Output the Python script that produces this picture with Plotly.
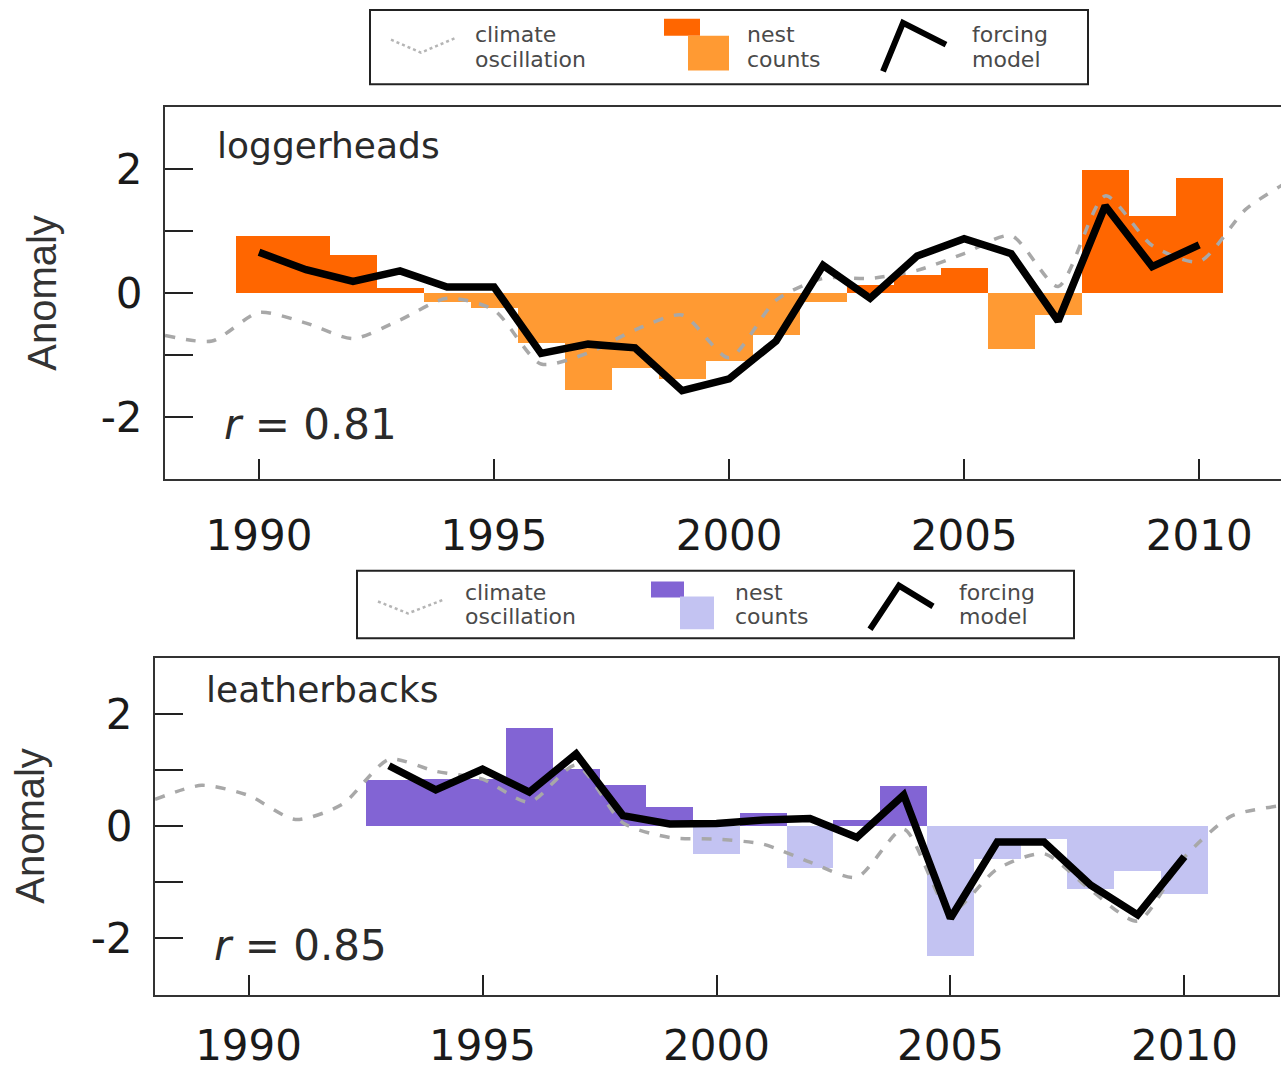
import plotly.graph_objects as go

# ---------------- data ----------------
years_nest_log = list(range(1990, 2011))
nest_log = [0.92, 0.92, 0.62, 0.09, -0.14, -0.24, -0.80, -1.57, -1.21, -1.38, -1.10,
            -0.68, -0.14, 0.13, 0.29, 0.41, -0.90, -0.36, 1.98, 1.24, 1.85]
forcing_log = [0.66, 0.38, 0.19, 0.36, 0.10, 0.10, -0.97, -0.82, -0.88, -1.57, -1.38,
               -0.77, 0.45, -0.08, 0.60, 0.88, 0.64, -0.45, 1.41, 0.43, 0.78]
years_clim = list(range(1988, 2013))
climate_log = [-0.68, -0.77, -0.31, -0.48, -0.73, -0.43, -0.08, -0.27, -1.14, -0.96, -0.59,
               -0.35, -1.04, -0.11, 0.24, 0.24, 0.37, 0.64, 0.93, 0.11, 1.57, 0.77, 0.51,
               1.36, 1.85]

years_nest_lea = list(range(1993, 2011))
nest_lea = [0.83, 0.85, 0.84, 1.76, 1.02, 0.73, 0.35, -0.49, 0.24, -0.75, 0.11, 0.72,
            -2.32, -0.58, -0.23, -1.12, -0.79, -1.20]
forcing_lea = [1.08, 0.65, 1.02, 0.61, 1.29, 0.19, 0.04, 0.05, 0.11, 0.14, -0.20, 0.56,
               -1.64, -0.28, -0.28, -1.05, -1.58, -0.54]
climate_lea = [0.48, 0.73, 0.55, 0.12, 0.39, 1.19, 0.98, 0.84, 0.43, 1.09, 0.06, -0.20,
               -0.23, -0.32, -0.64, -0.91, -0.05, -1.52, -0.76, -0.49, -1.14, -1.69, -0.55,
               0.18, 0.36]

x_tick_vals = [1990, 1995, 2000, 2005, 2010]
x_tick_text = ["1990", "1995", "2000", "2005", "2010"]
y_tick_vals = [-2, -1, 0, 1, 2]
y_tick_text = ["-2", "", "0", "", "2"]

panel_names = ["loggerheads", "leatherbacks"]
r_texts = ["<i>r</i> = 0.81", "<i>r</i> = 0.85"]
legend_labels = [("climate", "oscillation"), ("nest", "counts"), ("forcing", "model")]

# ---------------- styling ----------------
W, H = 1281, 1070
FONT = "DejaVu Sans"
ORANGE_D, ORANGE_L = "#FF6600", "#FF9A33"
PURPLE_D, PURPLE_L = "#8264D4", "#C3C3F2"
DASH_COL = "#A8A8A8"


def px(x):
    return x / W


def py(y):
    return 1 - y / H


fig = go.Figure()


def add_panel(xa, ya, yrs, nest, forc, clim, dark, light):
    pos_x = [y for y, v in zip(yrs, nest) if v >= 0]
    pos_v = [v for v in nest if v >= 0]
    neg_x = [y for y, v in zip(yrs, nest) if v < 0]
    neg_v = [v for v in nest if v < 0]
    fig.add_trace(go.Bar(x=pos_x, y=pos_v, width=1, marker=dict(color=dark, line=dict(width=0)),
                         xaxis=xa, yaxis=ya, showlegend=False))
    fig.add_trace(go.Bar(x=neg_x, y=neg_v, width=1, marker=dict(color=light, line=dict(width=0)),
                         xaxis=xa, yaxis=ya, showlegend=False))
    fig.add_trace(go.Scatter(x=years_clim, y=clim, mode="lines",
                             line=dict(color=DASH_COL, width=3.5, dash="10px,11px", shape="spline", smoothing=0.7),
                             xaxis=xa, yaxis=ya, showlegend=False))
    fig.add_trace(go.Scatter(x=yrs, y=forc, mode="lines",
                             line=dict(color="black", width=7.5),
                             xaxis=xa, yaxis=ya, showlegend=False))


add_panel("x", "y", years_nest_log, nest_log, forcing_log, climate_log, ORANGE_D, ORANGE_L)
add_panel("x2", "y2", years_nest_lea, nest_lea, forcing_lea, climate_lea, PURPLE_D, PURPLE_L)

axis_common = dict(showgrid=False, zeroline=False, showline=True, linewidth=2, linecolor="#333",
                   ticks="inside", tickwidth=2, tickcolor="#222", fixedrange=True)
tick_font = dict(family=FONT, size=42, color="#1a1a1a")

fig.update_layout(
    width=W, height=H, margin=dict(l=0, r=0, t=0, b=0),
    paper_bgcolor="white", plot_bgcolor="white", barmode="overlay", bargap=0,
    showlegend=False,
    xaxis=dict(domain=[px(165), 1.0], range=[1988, 2011.74], tickvals=x_tick_vals, ticktext=x_tick_text,
               ticklen=20, mirror=True, tickfont=tick_font,
               ticklabelstandoff=18, anchor="y", **axis_common),
    yaxis=dict(domain=[py(483), py(108)], range=[-3, 3], tickvals=y_tick_vals, ticktext=y_tick_text,
               ticklen=28, mirror=False, tickfont=tick_font,
               ticklabelstandoff=12, anchor="x", **axis_common),
    xaxis2=dict(domain=[px(155), px(1278)], range=[1988, 2012], tickvals=x_tick_vals, ticktext=x_tick_text,
                ticklen=20, mirror=True, tickfont=tick_font,
                ticklabelstandoff=13, anchor="y2", **axis_common),
    yaxis2=dict(domain=[py(1002), py(663)], range=[-3, 3], tickvals=y_tick_vals, ticktext=y_tick_text,
                ticklen=28, mirror=True, tickfont=tick_font,
                ticklabelstandoff=12, anchor="x2", **axis_common),
)

annotations = []
shapes = []

# panel texts
for (nx, ny), (rx, ry), name, rt in zip([(215, 147), (204, 695)], [(222, 428), (212, 953)], panel_names, r_texts):
    annotations.append(dict(x=px(nx), y=py(ny), xref="paper", yref="paper", text=name, showarrow=False,
                            xanchor="left", yanchor="middle", font=dict(family=FONT, size=36, color="#2a2a2a")))
    annotations.append(dict(x=px(rx), y=py(ry), xref="paper", yref="paper", text=rt, showarrow=False,
                            xanchor="left", yanchor="middle", font=dict(family=FONT, size=42, color="#2a2a2a")))

# y-axis titles
for (ax, ay) in [(42, 295), (30, 832)]:
    annotations.append(dict(x=px(ax), y=py(ay), xref="paper", yref="paper", text="Anomaly", textangle=-90,
                            showarrow=False, xanchor="center", yanchor="middle",
                            font=dict(family="Liberation Sans", size=40, color="#333")))

# legends
legend_specs = [
    dict(box=(370, 10, 1088, 85), dash=[(391, 40), (421, 53), (456, 38)],
         sq1=(664, 19, 700, 36), sq2=(688, 36, 729, 71), caret=[(883, 72), (903, 23), (946, 45)],
         tx=[473, 745, 970], ty=(35, 60), dark=ORANGE_D, light=ORANGE_L),
    dict(box=(357, 575, 1074, 643), dash=[(378, 606), (408, 618), (444, 604)],
         sq1=(651, 586, 684, 602), sq2=(680, 601, 714, 634), caret=[(870, 634), (899, 590), (933, 611)],
         tx=[463, 733, 957], ty=(597, 621), dark=PURPLE_D, light=PURPLE_L),
]

for spec in legend_specs:
    x0, y0, x1, y1 = spec["box"]
    shapes.append(dict(type="rect", xref="paper", yref="paper", x0=px(x0), x1=px(x1), y0=py(y1), y1=py(y0),
                       line=dict(color="#222", width=2), fillcolor="rgba(0,0,0,0)"))
    d = spec["dash"]
    path = "M {} {} L {} {} L {} {}".format(px(d[0][0]), py(d[0][1]), px(d[1][0]), py(d[1][1]),
                                            px(d[2][0]), py(d[2][1]))
    shapes.append(dict(type="path", xref="paper", yref="paper", path=path,
                       line=dict(color="#B5B5B5", width=2.5, dash="dot")))
    for key, col in (("sq1", spec["dark"]), ("sq2", spec["light"])):
        a, b, c, e = spec[key]
        shapes.append(dict(type="rect", xref="paper", yref="paper", x0=px(a), x1=px(c), y0=py(e), y1=py(b),
                           line=dict(width=0), fillcolor=col))
    cpt = spec["caret"]
    path = "M {} {} L {} {} L {} {}".format(px(cpt[0][0]), py(cpt[0][1]), px(cpt[1][0]), py(cpt[1][1]),
                                            px(cpt[2][0]), py(cpt[2][1]))
    shapes.append(dict(type="path", xref="paper", yref="paper", path=path, line=dict(color="black", width=6)))
    for tx, (l1, l2) in zip(spec["tx"], legend_labels):
        for ty, txt in zip(spec["ty"], (l1, l2)):
            annotations.append(dict(x=px(tx), y=py(ty), xref="paper", yref="paper", text=txt, showarrow=False,
                                    xanchor="left", yanchor="middle",
                                    font=dict(family=FONT, size=22, color="#4a4a4a")))

fig.update_layout(annotations=annotations, shapes=shapes)
fig.write_html("out.html", config={"displayModeBar": False})

# remove default page margin so the figure sits at the window origin
with open("out.html", "r", encoding="utf-8") as f:
    html = f.read()
html = html.replace("<head>", "<head><style>html,body{margin:0;padding:0;overflow:hidden}</style>", 1)
with open("out.html", "w", encoding="utf-8") as f:
    f.write(html)
